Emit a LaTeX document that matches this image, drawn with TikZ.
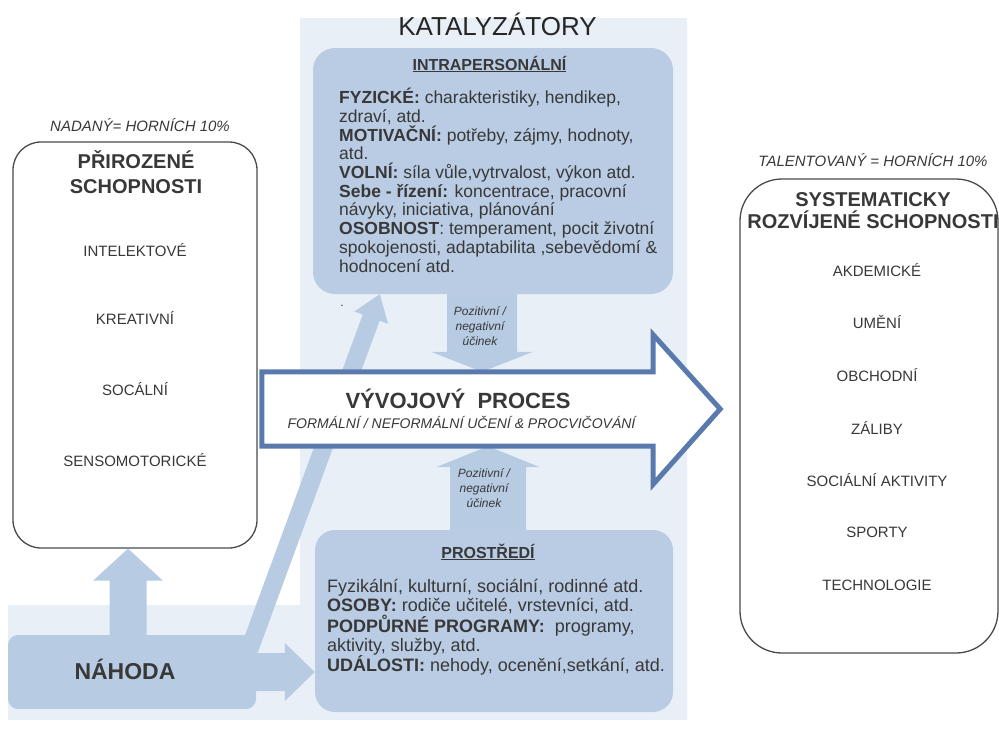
\documentclass[tikz,border=0pt]{standalone}
\usepackage{fontspec}
\setmainfont{Liberation Sans}
\usetikzlibrary{calc}
\definecolor{panelbg}{HTML}{E9EFF7}
\definecolor{boxfill}{HTML}{B9CCE4}
\definecolor{arrfill}{HTML}{B7CBE3}
\definecolor{procline}{HTML}{5A7AAE}
\definecolor{txt}{HTML}{383838}
\definecolor{frame}{HTML}{4A4A4A}
\newcommand\fatArr[5]{%
  \coordinate (fahead) at ($(#2)!#5!(#1)$);
  \fill[arrfill] ($(#1)!#3!90:(#2)$) -- ($(fahead)!#3!90:(#2)$) -- ($(fahead)!#4!90:(#2)$) -- (#2) -- ($(fahead)!#4!-90:(#2)$) -- ($(fahead)!#3!-90:(#2)$) -- ($(#1)!#3!-90:(#2)$) -- cycle;
}
\tikzset{
  catbox/.style={fill=boxfill, draw=none, rounded corners=22pt, inner sep=0pt},
  whitebox/.style={fill=white, draw=frame, line width=1.3pt, inner sep=0pt},
  item/.style={font=\fontsize{15}{18}\selectfont, text=txt, inner sep=0pt},
  hdr/.style={font=\bfseries\fontsize{20}{24}\selectfont, text=txt, align=center, inner sep=0pt},
  toplabel/.style={font=\itshape\fontsize{15}{18}\selectfont, text=txt, inner sep=0pt},
  effect/.style={font=\itshape\fontsize{12}{15}\selectfont, text=txt, align=center, inner sep=0pt},
  body/.style={text=txt, align=left, inner sep=0pt, anchor=north west},
}
\begin{document}
\begin{tikzpicture}[x=1pt,y=-1pt]
\useasboundingbox (0,0) rectangle (999,731);
% background panel
\fill[panelbg] (300,18) -- (687,18) -- (687,720) -- (8,720) -- (8,605) -- (300,605) -- cycle;
% boxes
\node[catbox, minimum width=360pt, minimum height=246pt] (intra) at (493,171) {};
\node[catbox, rounded corners=20pt, minimum width=358pt, minimum height=182pt] (env) at (494,621) {};
\node[fill=arrfill, rounded corners=10pt, inner sep=0pt, minimum width=248pt, minimum height=74pt] (nahoda) at (132,672) {};
\node[whitebox, rounded corners=28pt, minimum width=244pt, minimum height=406pt] (leftbox) at (135,345) {};
\node[whitebox, rounded corners=42pt, minimum width=258pt, minimum height=474pt] (rightbox) at (869,416) {};
\node[inner sep=0pt, minimum width=391pt, minimum height=74pt] (proc) at (457.5,409) {};
% connector arrows
\coordinate (n3S) at ([xshift=-7pt,yshift=-15pt]nahoda.north east);
\coordinate (n3T) at ([xshift=67pt]intra.south west);
\fatArr{n3S}{n3T}{9pt}{18pt}{25pt}
\coordinate (dnS) at ([xshift=-11pt]intra.south);
\coordinate (dnT) at (dnS |- proc.north);
\fatArr{dnS}{dnT}{35pt}{51pt}{20pt}
\coordinate (upS) at ([xshift=-6pt]env.north);
\coordinate (upT) at (upS |- proc.south);
\fatArr{upS}{upT}{38pt}{52pt}{21pt}
\coordinate (n1S) at ([xshift=-4pt]nahoda.north);
\coordinate (n1T) at (n1S |- leftbox.south);
\fatArr{n1S}{n1T}{18.5pt}{35pt}{32pt}
\coordinate (n2S) at (nahoda.east);
\coordinate (n2T) at (n2S -| env.west);
\fatArr{n2S}{n2T}{19pt}{29pt}{30pt}
% process arrow
\draw[procline, fill=white, line width=5pt, line join=miter]
  (proc.north west) -- (proc.north east) -- ++(0,-37) -- ($(proc.east)+(67,0)$)
  -- ($(proc.south east)+(0,38)$) -- (proc.south east) -- (proc.south west) -- cycle;
\node[font=\bfseries\fontsize{22}{26}\selectfont, text=txt, inner sep=0pt] (proctitle) at (458,399) {VÝVOJOVÝ\ \ PROCES};
\node[font=\itshape\fontsize{14}{17}\selectfont, text=txt, inner sep=0pt] (procsub) at (461.5,422) {FORMÁLNÍ / NEFORMÁLNÍ UČENÍ \& PROCVIČOVÁNÍ};
% effect labels
\node[effect] (eff1) at (480,326) {Pozitivní /\\negativní\\účinek};
\node[effect] (eff2) at (484,488) {Pozitivní /\\negativní\\účinek};
% titles
\node[font=\fontsize{26}{30}\selectfont, text=black!85, inner sep=0pt] (katal) at (497.5,24) {KATALYZÁTORY};
\node[toplabel] (nadany) at (140,125) {NADANÝ= HORNÍCH 10\%};
\node[toplabel] (talent) at (873,160) {TALENTOVANÝ = HORNÍCH 10\%};
% intrapersonal
\node[font=\bfseries\fontsize{16}{19}\selectfont, text=txt, inner sep=0pt] (intrahead) at (489.5,64) {\underline{INTRAPERSONÁLNÍ}};
\node[body, font=\fontsize{17.5}{18.7}\selectfont] (intratext) at (339,88) {%
\textbf{FYZICKÉ:} charakteristiky, hendikep,\\
zdraví, atd.\\
\textbf{MOTIVAČNÍ:} potřeby, zájmy, hodnoty,\\
atd.\\
\textbf{VOLNÍ:} síla vůle,vytrvalost, výkon atd.\\
\textbf{Sebe - řízení:} koncentrace, pracovní\\
návyky, iniciativa, plánování\\
\textbf{OSOBNOST}: temperament, pocit životní\\
spokojenosti, adaptabilita ,sebevědomí \&\\
hodnocení atd.};
\node[text=txt, font=\fontsize{12}{14}\selectfont, inner sep=0pt] (dot) at (342,306) {.};
% environment
\node[font=\bfseries\fontsize{16}{19}\selectfont, text=txt, inner sep=0pt] (envhead) at (488,552) {\underline{PROSTŘEDÍ}};
\node[body, font=\fontsize{18}{19}\selectfont] (envtext) at (327,579) {%
Fyzikální, kulturní, sociální, rodinné atd.\\
\textbf{OSOBY:} rodiče učitelé, vrstevníci, atd.\\
\textbf{PODPŮRNÉ PROGRAMY:}\ \ programy,\\
aktivity, služby, atd.\\
\textbf{UDÁLOSTI:} nehody, ocenění,setkání, atd.};
% nahoda
\node[font=\bfseries\fontsize{23}{27}\selectfont, text=txt, inner sep=0pt] (nahodatxt) at (125,669) {NÁHODA};
% left box content
\node[hdr, font=\bfseries\fontsize{20}{25}\selectfont] (lefthead) at (136,172) {PŘIROZENÉ\\SCHOPNOSTI};
\node[item] (l1) at (135,250) {INTELEKTOVÉ};
\node[item] (l2) at (135,318) {KREATIVNÍ};
\node[item] (l3) at (135,389) {SOCÁLNÍ};
\node[item] (l4) at (135,460) {SENSOMOTORICKÉ};
% right box content
\node[hdr, font=\bfseries\fontsize{20}{22}\selectfont] (righthead) at (873,211) {SYSTEMATICKY\\ROZVÍJENÉ SCHOPNOSTI};
\node[item] (r1) at (877,270) {AKDEMICKÉ};
\node[item] (r2) at (877,322.5) {UMĚNÍ};
\node[item] (r3) at (877,375) {OBCHODNÍ};
\node[item] (r4) at (877,427.5) {ZÁLIBY};
\node[item] (r5) at (877,480) {SOCIÁLNÍ AKTIVITY};
\node[item] (r6) at (877,532.5) {SPORTY};
\node[item] (r7) at (877,585) {TECHNOLOGIE};
\end{tikzpicture}
\end{document}
